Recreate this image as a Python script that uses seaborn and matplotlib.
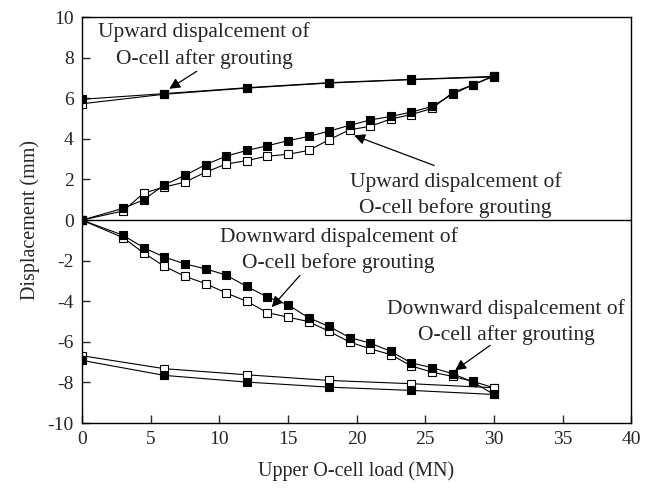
import matplotlib
matplotlib.use("Agg")
import matplotlib.pyplot as plt
import seaborn as sns
import numpy as np

# Load steps (MN)
load_fine = [0, 3, 4.5, 6, 7.5, 9, 10.5, 12, 13.5, 15, 16.5, 18, 19.5, 21,
             22.5, 24, 25.5, 27, 28.5, 30]
load_coarse = [0, 6, 12, 18, 24, 30]

# Upward displacement before grouting (mm)
up_before_a = [0, 0.58, 1.0, 1.74, 2.2, 2.73, 3.15, 3.43, 3.66, 3.91, 4.12,
               4.38, 4.67, 4.93, 5.11, 5.32, 5.6, 6.2, 6.67, 7.08]
up_before_b = [0, 0.45, 1.33, 1.63, 1.87, 2.36, 2.76, 2.93, 3.15, 3.24, 3.43,
               3.96, 4.45, 4.62, 4.98, 5.2, 5.5, 6.28, 6.67, 7.12]

# Upward displacement after grouting (mm)
up_after_a = [5.95, 6.23, 6.52, 6.77, 6.93, 7.08]
up_after_b = [5.73, 6.2, 6.5, 6.75, 6.92, 7.05]

# Downward displacement before grouting (mm)
down_before_a = [0, -0.75, -1.36, -1.82, -2.16, -2.4, -2.71, -3.27, -3.79,
                 -4.17, -4.81, -5.24, -5.79, -6.06, -6.47, -7.04, -7.27,
                 -7.57, -7.98, -8.59]
down_before_b = [0, -0.87, -1.62, -2.28, -2.77, -3.13, -3.59, -4.0, -4.56,
                 -4.78, -5.0, -5.48, -6.01, -6.34, -6.63, -7.19, -7.49,
                 -7.7, -7.95, -8.26]

# Downward displacement after grouting (mm)
down_after_a = [-6.91, -7.65, -7.98, -8.23, -8.39, -8.59]
down_after_b = [-6.68, -7.32, -7.62, -7.9, -8.06, -8.26]

sns.set_style("ticks")
plt.rcParams["font.family"] = ["Liberation Serif", "DejaVu Serif"]
plt.rcParams["axes.unicode_minus"] = False

fig = plt.figure(figsize=(6.48, 4.88), dpi=100)
ax = fig.add_axes([0.1265, 0.133, 0.8475, 0.832])

filled = dict(marker="s", color="k", markerfacecolor="k", markeredgecolor="k",
              markersize=5.2, linewidth=0.8, markeredgewidth=0.8)
hollow = dict(marker="s", color="k", markerfacecolor="white",
              markeredgecolor="k", markersize=5.2, linewidth=0.8,
              markeredgewidth=0.8)

series = [
    (load_fine, up_before_b, hollow),
    (load_fine, up_before_a, filled),
    (load_coarse, up_after_b, hollow),
    (load_coarse, up_after_a, filled),
    (load_fine, down_before_b, hollow),
    (load_fine, down_before_a, filled),
    (load_coarse, down_after_b, hollow),
    (load_coarse, down_after_a, filled),
]
for xs, ys, style in series:
    sns.lineplot(x=xs, y=ys, ax=ax, legend=False, sort=False, **style)

ax.axhline(0, color="k", linewidth=1.0, zorder=1)

ax.set_xlim(0, 40)
ax.set_ylim(-10, 10)
ax.set_xticks(np.arange(0, 41, 5))
ax.set_yticks(np.arange(-10, 11, 2))
ax.tick_params(direction="in", length=6, width=1, labelsize=14, pad=6,
               top=False, right=False)
for sp in ax.spines.values():
    sp.set_linewidth(1.0)
    sp.set_color("k")

ax.set_xlabel("Upper O-cell load (MN)", fontsize=14.5, labelpad=9)
ax.set_ylabel("Displacement (mm)", fontsize=14.5, labelpad=5)

arrow = dict(arrowstyle="-|>", color="k", lw=0.9, mutation_scale=16,
             shrinkA=0, shrinkB=0)
txt = dict(fontsize=15.5, ha="center", va="center", multialignment="center",
           linespacing=1.42)

ax.text(8.9, 8.6, "Upward dispalcement of\nO-cell after grouting", **txt)
ax.annotate("", xy=(6.36, 6.47), xytext=(8.36, 7.33), arrowprops=arrow)

ax.text(27.2, 1.22, "Upward dispalcement of\nO-cell before grouting", **txt)
ax.annotate("", xy=(19.82, 4.17), xytext=(25.65, 2.69), arrowprops=arrow)

ax.text(18.7, -1.49, "Downward dispalcement of\nO-cell before grouting", **txt)
ax.annotate("", xy=(13.82, -4.29), xytext=(15.88, -2.72), arrowprops=arrow)

ax.text(30.9, -5.04, "Downward dispalcement of\nO-cell after grouting", **txt)
ax.annotate("", xy=(27.18, -7.40), xytext=(29.73, -6.17), arrowprops=arrow)

fig.savefig("out.png", dpi=100)
